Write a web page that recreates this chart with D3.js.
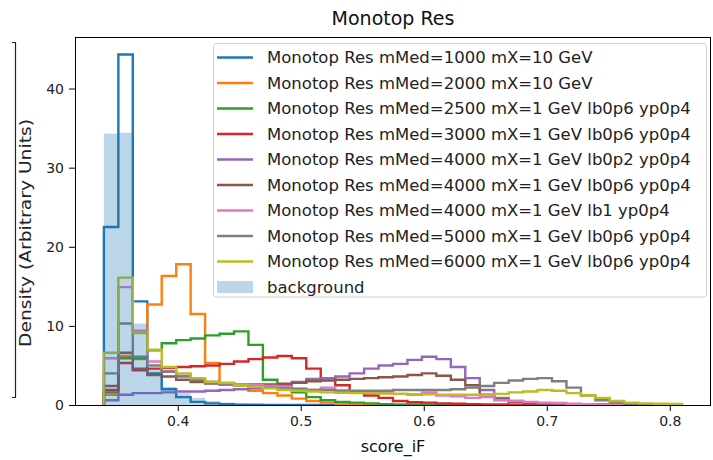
<!DOCTYPE html>
<html>
<head>
<meta charset="utf-8">
<script src="https://cdn.jsdelivr.net/npm/d3@7"></script>
<style>
  html, body { margin: 0; padding: 0; background: #fff; }
  svg { display: block; font-family: "DejaVu Sans", sans-serif; }
</style>
</head>
<body>
<svg id="chart" width="713" height="460"></svg>
<script>
// Histogram binning of score_iF: 40 equal bins over [0.34, 0.81]
const binLo = 0.34, binHi = 0.81, binCount = 40;

// Normalised densities per bin, one array per sample
const mMed1000_mX10 = [22.5, 44.3, 13.1, 4.0, 2.0, 1.0, 0.4, 0.2, 0.1, 0.05, 0.03, 0.02, 0, 0, 0, 0, 0, 0, 0, 0, 0, 0, 0, 0, 0, 0, 0, 0, 0, 0, 0, 0, 0, 0, 0, 0, 0, 0, 0, 0];
const mMed2000_mX10 = [1.3, 6.2, 5.8, 12.7, 16.3, 17.8, 11.5, 5.3, 2.8, 2.5, 1.8, 1.5, 1.2, 0.8, 0.5, 0.3, 0.1, 0.05, 0, 0, 0, 0, 0, 0, 0, 0, 0, 0, 0, 0, 0, 0, 0, 0, 0, 0, 0, 0, 0, 0];
const mMed2500_lb0p6 = [1.6, 5.9, 5.9, 6.9, 7.8, 8.2, 8.4, 8.8, 9.0, 9.3, 7.6, 3.2, 2.4, 1.6, 1.0, 0.6, 0.4, 0.3, 0.2, 0.1, 0.05, 0.03, 0.02, 0, 0, 0, 0, 0, 0, 0, 0, 0, 0, 0, 0, 0, 0, 0, 0, 0];
const mMed3000_lb0p6 = [1.9, 5.3, 4.4, 4.6, 4.7, 4.8, 4.9, 5.0, 5.2, 5.5, 5.8, 6.0, 6.2, 5.9, 4.6, 3.4, 2.5, 1.7, 1.2, 0.9, 0.5, 0.35, 0.3, 0.2, 0.15, 0.1, 0.05, 0.03, 0, 0, 0, 0, 0, 0, 0, 0, 0, 0, 0, 0];
const mMed4000_lb0p2 = [0.6, 1.3, 1.5, 1.5, 1.6, 1.7, 1.7, 1.8, 1.9, 2.0, 2.1, 2.3, 2.5, 2.9, 3.3, 3.4, 3.6, 4.0, 4.6, 5.0, 5.2, 5.7, 6.1, 5.8, 4.8, 3.4, 1.9, 0.9, 0.5, 0.3, 0.2, 0.1, 0.05, 0, 0, 0, 0, 0, 0, 0];
const mMed4000_lb0p6 = [2.4, 6.6, 4.6, 3.8, 3.6, 3.2, 2.9, 2.7, 2.6, 2.6, 2.6, 2.6, 2.7, 2.8, 3.0, 3.1, 3.2, 3.3, 3.4, 3.5, 3.6, 3.8, 4.0, 3.7, 3.2, 2.5, 1.3, 0.7, 0.4, 0.2, 0.1, 0.05, 0.02, 0, 0, 0, 0, 0, 0, 0];
const mMed4000_lb1 = [5.9, 14.9, 9.4, 5.5, 4.3, 3.7, 3.2, 2.9, 2.7, 2.6, 2.5, 2.4, 2.3, 2.1, 1.9, 2.2, 1.8, 1.7, 1.6, 1.5, 1.4, 1.3, 1.6, 1.2, 1.1, 0.9, 1.0, 0.6, 0.5, 0.4, 0.3, 0.25, 0.15, 0.1, 0.05, 0.02, 0, 0, 0, 0];
const mMed5000_lb0p6 = [4.0, 10.3, 6.1, 5.0, 4.2, 3.6, 3.2, 2.9, 2.7, 2.5, 2.3, 2.2, 2.1, 2.0, 1.9, 1.9, 1.8, 1.8, 1.8, 1.8, 1.9, 1.9, 1.9, 1.9, 2.0, 2.2, 2.4, 2.8, 3.1, 3.3, 3.4, 3.0, 2.2, 1.2, 0.6, 0.3, 0.15, 0.05, 0.02, 0];
const mMed6000_lb0p6 = [6.6, 16.1, 9.1, 7.0, 4.8, 4.0, 3.4, 2.9, 2.8, 2.5, 2.3, 2.1, 1.9, 1.8, 1.7, 1.6, 1.55, 1.5, 1.5, 1.45, 1.4, 1.35, 1.35, 1.3, 1.3, 1.3, 1.3, 1.4, 1.6, 1.7, 1.9, 1.8, 1.5, 1.2, 0.9, 0.5, 0.3, 0.2, 0.15, 0.12];
const background = [34.3, 34.4, 10.3, 4.5, 2.3, 1.5, 0.9, 0.5, 0.3, 0.2, 0.1, 0.08, 0.05, 0.03, 0.02, 0.01, 0, 0, 0, 0, 0, 0, 0, 0, 0, 0, 0, 0, 0, 0, 0, 0, 0, 0, 0, 0, 0, 0, 0, 0];

const signalLabels = [
  "Monotop Res mMed=1000 mX=10 GeV",
  "Monotop Res mMed=2000 mX=10 GeV",
  "Monotop Res mMed=2500 mX=1 GeV lb0p6 yp0p4",
  "Monotop Res mMed=3000 mX=1 GeV lb0p6 yp0p4",
  "Monotop Res mMed=4000 mX=1 GeV lb0p2 yp0p4",
  "Monotop Res mMed=4000 mX=1 GeV lb0p6 yp0p4",
  "Monotop Res mMed=4000 mX=1 GeV lb1 yp0p4",
  "Monotop Res mMed=5000 mX=1 GeV lb0p6 yp0p4",
  "Monotop Res mMed=6000 mX=1 GeV lb0p6 yp0p4"
];
const backgroundLabel = "background";
const signalSeries = [mMed1000_mX10, mMed2000_mX10, mMed2500_lb0p6, mMed3000_lb0p6,
  mMed4000_lb0p2, mMed4000_lb0p6, mMed4000_lb1, mMed5000_lb0p6, mMed6000_lb0p6];
const colors = ["#1f77b4", "#ff7f0e", "#2ca02c", "#d62728", "#9467bd",
  "#8c564b", "#e377c2", "#7f7f7f", "#bcbd22"];

const xTicks = [0.4, 0.5, 0.6, 0.7, 0.8];
const yTicks = [0, 10, 20, 30, 40];
const titleText = "Monotop Res";
const xLabelText = "score_iF";
const yLabelText = "Density (Arbitrary Units)";

const edges = d3.range(binCount + 1).map(i => binLo + i * (binHi - binLo) / binCount);

const svg = d3.select("#chart");
const plot = { left: 75, right: 711, top: 37, bottom: 405 };

// 5% margins around the data, like matplotlib's autoscaling
const span = binHi - binLo;
const x = d3.scaleLinear().domain([binLo - 0.05 * span, binHi + 0.05 * span]).range([plot.left, plot.right]);
const yMax = d3.max(signalSeries.concat([background]), s => d3.max(s)) * 1.05;
const y = d3.scaleLinear().domain([0, yMax]).range([plot.bottom, plot.top]);

svg.append("defs").append("clipPath").attr("id", "plotClip")
  .append("rect").attr("x", plot.left).attr("y", plot.top)
  .attr("width", plot.right - plot.left).attr("height", plot.bottom - plot.top);

const g = svg.append("g").attr("clip-path", "url(#plotClip)");

// Step outline of a histogram: up from the baseline, across every bin, back down
function stepPoints(values) {
  const pts = [[edges[0], 0]];
  values.forEach((v, i) => { pts.push([edges[i], v]); pts.push([edges[i + 1], v]); });
  pts.push([edges[binCount], 0]);
  return pts;
}
const line = d3.line().x(d => x(d[0])).y(d => y(d[1]));

signalSeries.forEach((s, i) => {
  g.append("path").attr("d", line(stepPoints(s)))
    .attr("fill", "none").attr("stroke", colors[i])
    .attr("stroke-width", 2.4).attr("stroke-linejoin", "miter");
});

// Background as a filled, translucent bar histogram
g.selectAll("rect.bkg").data(background).enter().append("rect")
  .attr("class", "bkg")
  .attr("x", (d, i) => x(edges[i]))
  .attr("width", (d, i) => x(edges[i + 1]) - x(edges[i]))
  .attr("y", d => y(d))
  .attr("height", d => y(0) - y(d))
  .attr("fill", "#1f77b4").attr("fill-opacity", 0.3);

// Axes
const xAxis = d3.axisBottom(x).tickValues(xTicks).tickFormat(d3.format(".1f")).tickSize(6).tickPadding(5);
const yAxis = d3.axisLeft(y).tickValues(yTicks).tickFormat(d3.format("d")).tickSize(6).tickPadding(5);

const gx = svg.append("g").attr("transform", `translate(0,${plot.bottom})`).call(xAxis);
const gy = svg.append("g").attr("transform", `translate(${plot.left},0)`).call(yAxis);
[gx, gy].forEach(a => {
  a.select(".domain").remove();
  a.selectAll("line").attr("stroke", "#000").attr("stroke-width", 1);
  a.selectAll("text").attr("font-size", 14).attr("fill", "#222")
    .attr("font-family", "DejaVu Sans, sans-serif");
});

// Frame
svg.append("rect").attr("x", plot.left + 0.5).attr("y", plot.top + 0.5)
  .attr("width", plot.right - plot.left - 1).attr("height", plot.bottom - plot.top)
  .attr("fill", "none").attr("stroke", "#000").attr("stroke-width", 1);

// Title and axis labels
svg.append("text").attr("x", (plot.left + plot.right) / 2).attr("y", 25)
  .attr("text-anchor", "middle").attr("font-size", 19).attr("fill", "#111").text(titleText);
svg.append("text").attr("x", (plot.left + plot.right) / 2).attr("y", 452)
  .attr("text-anchor", "middle").attr("font-size", 16).attr("fill", "#111").text(xLabelText);
svg.append("text").attr("transform", "translate(31,233) rotate(-90)")
  .attr("text-anchor", "middle").attr("font-size", 15.5).attr("fill", "#222")
  .attr("textLength", 228).attr("lengthAdjust", "spacingAndGlyphs").text(yLabelText);

// Bracket spanning the figure height next to the y label
svg.append("path").attr("d", "M12,42.5 H15.5 V397.5 H12")
  .attr("fill", "none").attr("stroke", "#222").attr("stroke-width", 1.2);

// Legend
const legend = svg.append("g");
legend.append("rect").attr("x", 213.5).attr("y", 43.5).attr("width", 493).attr("height", 253.5)
  .attr("rx", 3).attr("fill", "#fff").attr("fill-opacity", 0.8)
  .attr("stroke", "#d0d0d0").attr("stroke-width", 1);
const rowY = i => 57.5 + i * 25.5;
signalLabels.forEach((lab, i) => {
  legend.append("line").attr("x1", 217).attr("x2", 253).attr("y1", rowY(i)).attr("y2", rowY(i))
    .attr("stroke", colors[i]).attr("stroke-width", 2.4);
  legend.append("text").attr("x", 267).attr("y", rowY(i)).attr("dy", "0.36em")
    .attr("font-size", 16.5).attr("fill", "#222").text(lab);
});
const bi = signalLabels.length;
legend.append("rect").attr("x", 217).attr("y", rowY(bi) - 6).attr("width", 36).attr("height", 12)
  .attr("fill", "#1f77b4").attr("fill-opacity", 0.3);
legend.append("text").attr("x", 267).attr("y", rowY(bi)).attr("dy", "0.36em")
  .attr("font-size", 16.5).attr("fill", "#222").text(backgroundLabel);
</script>
</body>
</html>
